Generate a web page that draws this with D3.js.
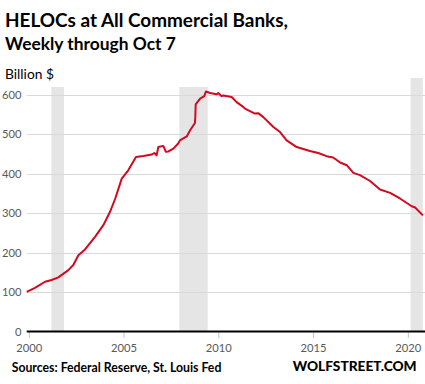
<!DOCTYPE html>
<html><head><meta charset="utf-8">
<script src="https://cdn.jsdelivr.net/npm/d3@7"></script>
<style>
html,body{margin:0;padding:0;background:#fff;}
svg{display:block;font-family:Lato,"Open Sans",sans-serif;}
</style></head>
<body>
<svg id="chart" width="425" height="384"></svg>
<script>
// ---- data ----
const dates = ["1999-11-12","2000-04-19","2000-10-30","2001-03-07","2001-07-13","2002-01-23","2002-04-28","2002-08-04","2002-12-10","2003-06-21","2003-11-28","2004-04-05","2004-07-13","2004-11-17","2005-03-22","2005-08-18","2006-01-08","2006-06-17","2006-08-07","2006-09-20","2006-10-23","2007-01-26","2007-03-18","2007-05-05","2007-08-08","2007-11-10","2007-12-13","2008-04-23","2008-06-24","2008-09-27","2008-10-05","2008-10-12","2009-01-05","2009-03-26","2009-04-28","2009-07-16","2009-11-22","2009-12-21","2010-02-24","2010-03-28","2010-09-05","2010-12-09","2011-04-16","2011-05-19","2011-11-28","2012-01-30","2012-05-08","2012-11-18","2013-03-26","2013-07-31","2014-02-10","2014-10-23","2015-04-02","2015-09-09","2016-01-15","2016-05-26","2016-10-01","2017-02-06","2017-06-14","2017-12-25","2018-07-05","2019-01-15","2019-07-24","2020-03-07","2020-05-12","2020-10-07"];
const helocs = [101,111,126.6,131,137.7,156,169,194,208.6,240.5,270,304,337,388,409,443,445.6,449,453,447,468,471,456,457,464,477,485,495,510,529,545,576,591,597,609,605,602,605,597,599,595,582,570,565.6,553,554,544,519,506,485,468,458,453,445,441.5,429,422,402.5,397,382,360.5,352,337.7,318,315,295];
const recessionStart = ["2001-03-01","2007-12-01","2020-02-15"];
const recessionEnd   = ["2001-11-01","2009-06-01","2020-10-07"];
const yTicks = [0,100,200,300,400,500,600];
const xTickYears = [2000,2005,2010,2015,2020];
const titleLines = ["HELOCs at All Commercial Banks,","Weekly through Oct 7"];
const unitLabel = "Billion $";
const sourceLabel = "Sources: Federal Reserve, St. Louis Fed";
const brandLabel = "WOLFSTREET.COM";

// ---- layout ----
const parse = d3.timeParse("%Y-%m-%d");
const svg = d3.select("#chart");
const plotLeft = 26.7, plotRight = 425;
const x = d3.scaleTime()
  .domain([new Date(2000,0,1), new Date(2020,0,1)])
  .range([29.3, 408.3]);
const y = d3.scaleLinear().domain([0,600]).range([331.7,95]);
const bandTops = [87, 87, 78];

function fit(sel, w){
  const n = sel.node();
  let fs = parseFloat(sel.attr("font-size"));
  const len = n.getComputedTextLength();
  if (len>0) sel.attr("font-size", (fs*w/len).toFixed(2));
  return sel;
}

// recession bands
svg.append("g").selectAll("rect").data(recessionStart).join("rect")
  .attr("x", (d)=>x(parse(d)))
  .attr("width", (d,i)=>Math.min(x(parse(recessionEnd[i])), 423) - x(parse(d)))
  .attr("y", (d,i)=>bandTops[i])
  .attr("height", (d,i)=>y(0)-bandTops[i])
  .attr("fill","#e5e5e5");

// gridlines
svg.append("g").selectAll("line").data(yTicks.filter(v=>v>0)).join("line")
  .attr("x1", plotLeft).attr("x2", plotRight)
  .attr("y1", d=>Math.round(y(d))+0.5).attr("y2", d=>Math.round(y(d))+0.5)
  .attr("stroke","#d9d9d9").attr("stroke-width",1);

// y labels
svg.append("g").selectAll("text").data(yTicks).join("text")
  .attr("x", 21.5).attr("y", d=>y(d)).attr("dy","0.35em")
  .attr("text-anchor","end").attr("font-size",11.2).attr("fill","#595959")
  .text(d=>d);

// x ticks
const xt = svg.append("g");
xt.selectAll("line").data(xTickYears).join("line")
  .attr("x1", d=>x(new Date(d,0,1))).attr("x2", d=>x(new Date(d,0,1)))
  .attr("y1", 332).attr("y2", 338)
  .attr("stroke","#b4c6e7").attr("stroke-width",1);
xt.selectAll("text").data(xTickYears).join("text")
  .attr("x", d=>x(new Date(d,0,1))).attr("y", 351.5)
  .attr("text-anchor","middle").attr("font-size",11.2).attr("fill","#595959")
  .text(d=>d);

// axis line
svg.append("line").attr("x1", plotLeft).attr("x2", plotRight)
  .attr("y1", 331.5).attr("y2", 331.5).attr("stroke","#000").attr("stroke-width",2);

// line
const pts = dates.map((d,i)=>({date:parse(d), v:helocs[i]}));
svg.append("path").datum(pts)
  .attr("fill","none").attr("stroke","#d2091f").attr("stroke-width",2)
  .attr("stroke-linejoin","round")
  .attr("d", d3.line().x(d=>x(d.date)).y(d=>y(d.v)));

// titles
fit(svg.append("text").attr("x",5).attr("y",27).attr("font-weight",700)
  .attr("font-size",18).attr("fill","#000").text(titleLines[0]), 283);
fit(svg.append("text").attr("x",5).attr("y",50).attr("font-weight",700)
  .attr("font-size",18).attr("fill","#000").text(titleLines[1]), 171);
fit(svg.append("text").attr("x",5).attr("y",79).attr("font-size",13)
  .attr("fill","#000").text(unitLabel), 49);
fit(svg.append("text").attr("x",11.7).attr("y",371.5).attr("font-weight",700)
  .attr("font-size",12).attr("fill","#000").text(sourceLabel), 210);
fit(svg.append("text").attr("x",292.7).attr("y",371).attr("font-weight",900)
  .attr("font-size",14).attr("fill","#000").text(brandLabel), 124);
</script>
</body></html>
